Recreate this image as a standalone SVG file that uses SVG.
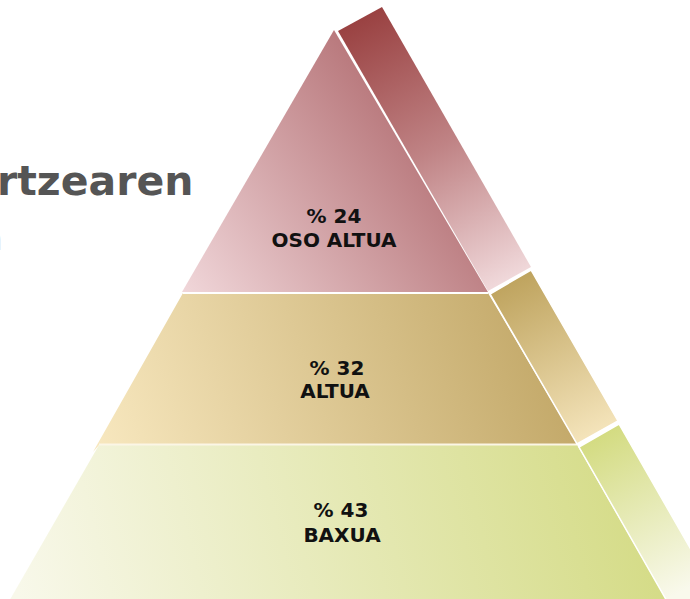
<svg xmlns="http://www.w3.org/2000/svg" width="690" height="599" viewBox="0 0 690 599">
<defs>
<linearGradient id="gTop" gradientUnits="userSpaceOnUse" x1="190" y1="300" x2="450" y2="110">
<stop offset="0" stop-color="#f0d6d9"/><stop offset="1" stop-color="#b06a6e"/>
</linearGradient>
<linearGradient id="gTopSide" gradientUnits="userSpaceOnUse" x1="370" y1="15" x2="505" y2="285">
<stop offset="0" stop-color="#9a4242"/><stop offset="0.5" stop-color="#c08486"/><stop offset="1" stop-color="#f1dadc"/>
</linearGradient>
<linearGradient id="gMid" gradientUnits="userSpaceOnUse" x1="100" y1="450" x2="560" y2="290">
<stop offset="0" stop-color="#f7e7be"/><stop offset="1" stop-color="#c0a564"/>
</linearGradient>
<linearGradient id="gMidSide" gradientUnits="userSpaceOnUse" x1="515" y1="280" x2="590" y2="440">
<stop offset="0" stop-color="#bfa45f"/><stop offset="1" stop-color="#f5e5bc"/>
</linearGradient>
<linearGradient id="gBot" gradientUnits="userSpaceOnUse" x1="20" y1="600" x2="640" y2="440">
<stop offset="0" stop-color="#f8f8ea"/><stop offset="1" stop-color="#d4db85"/>
</linearGradient>
<linearGradient id="gBotSide" gradientUnits="userSpaceOnUse" x1="605" y1="430" x2="685" y2="590">
<stop offset="0" stop-color="#d3db80"/><stop offset="1" stop-color="#f9f9ec"/>
</linearGradient>
</defs>
<style>
.title{font-family:"DejaVu Sans",Verdana,sans-serif;font-weight:bold;fill:#555555}
.lbl{font-family:"DejaVu Sans",Verdana,sans-serif;font-weight:bold;font-size:20px;fill:#111111;text-anchor:middle}
</style>
<g id="title">
<text class="title" x="-3" y="195" font-size="41">rtzearen</text>
<text x="-17.5" y="250" font-family="DejaVu Sans, sans-serif" font-size="32" fill="#c4c4c4">n</text>
</g>
<g id="tier-middle">
<polygon points="183,293 488,293 577,444 100,444 93,452" fill="url(#gMid)"/>
<line x1="183" y1="293" x2="488" y2="293" stroke="#ffffff" stroke-width="2"/>
<text class="lbl" x="337" y="375">% 32</text>
<text class="lbl" x="335" y="398">ALTUA</text>
</g>
<g id="tier-top">
<polygon points="334,30 488,292 182,292" fill="url(#gTop)"/>
<text class="lbl" x="334" y="223">% 24</text>
<text class="lbl" x="334" y="247">OSO ALTUA</text>
</g>
<g id="tier-bottom">
<polygon points="99,445 577,445 672,610 4,610" fill="url(#gBot)"/>
<line x1="99" y1="444.5" x2="577" y2="444.5" stroke="#fbf6e6" stroke-width="2"/>
<text class="lbl" x="341" y="517">% 43</text>
<text class="lbl" x="342" y="542">BAXUA</text>
</g>
<g id="side-top">
<polygon points="338,31 382,7 531,267 488,291" fill="url(#gTopSide)"/>
</g>
<g id="side-middle">
<polygon points="490,294 531,270 618,421 577,444" fill="url(#gMidSide)" stroke="#ffffff" stroke-width="1.5"/>
</g>
<g id="side-bottom">
<polygon points="579,447 619,424 720,600 680,624" fill="url(#gBotSide)" stroke="#ffffff" stroke-width="1.5"/>
</g>
<g id="connectors"/>
</svg>
